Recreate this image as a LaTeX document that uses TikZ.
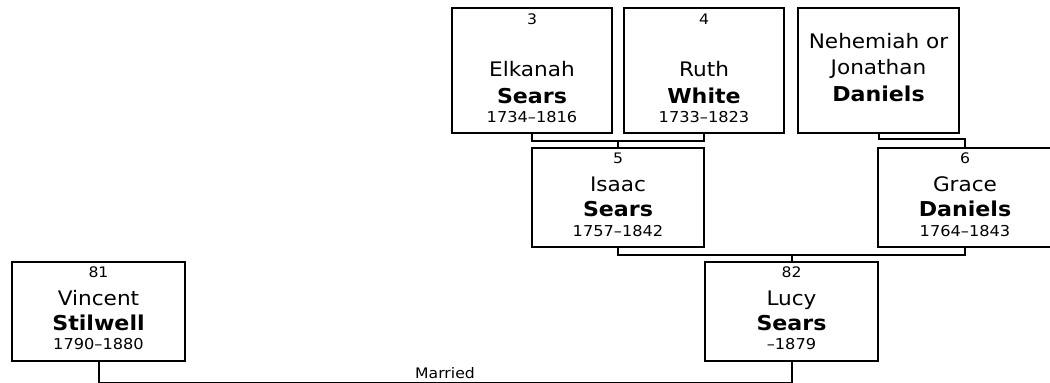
\documentclass[tikz,border=0pt]{standalone}
\usepackage{fontspec}
\setmainfont{DejaVu Sans}[FakeStretch=1.08]
\usetikzlibrary{calc}

\begin{document}
\begin{tikzpicture}[x=1pt, y=-1pt, line width=2pt,
    person/.style={draw, inner sep=0pt, minimum height=99},
    tallperson/.style={draw, inner sep=0pt, minimum height=125},
    num/.style={anchor=base, inner sep=0pt, font=\fontsize{14.5}{17}\selectfont},
    given/.style={anchor=base, inner sep=0pt, font=\fontsize{20}{24}\selectfont},
    sur/.style={anchor=base, inner sep=0pt, font=\fontsize{20.5}{24}\selectfont\bfseries},
    yrs/.style={anchor=base, inner sep=0pt, font=\fontsize{15}{18}\selectfont}]
    \useasboundingbox (0,0) rectangle (1050,383);

    % grandparents
    \node[tallperson, minimum width=160] (b3) at (532,70.5) {};
    \node[tallperson, minimum width=160] (b4) at (704,70.5) {};
    \node[tallperson, minimum width=161] (bnj) at (878.5,70.5) {};
    \foreach \b/\n/\g/\s/\y in {3/3/Elkanah/Sears/1734--1816, 4/4/Ruth/White/1733--1823} {
        \node[num] (n\b) at ($(b\b.north)+(0,17)$) {\n};
        \node[given] (g\b) at ($(b\b.north)+(0,69)$) {\g};
        \node[sur] (s\b) at ($(b\b.north)+(0,96)$) {\s};
        \node[yrs] (y\b) at ($(b\b.north)+(0,115)$) {\y};
    }
    \node[given] (gnj1) at ($(bnj.north)+(0,41)$) {Nehemiah or};
    \node[given] (gnj2) at ($(bnj.north)+(0,67)$) {Jonathan};
    \node[sur] (snj) at ($(bnj.north)+(0,94)$) {Daniels};

    % parents, Lucy and her husband
    \node[person, minimum width=172] (b5) at (618,197.5) {};
    \node[person, minimum width=174] (b6) at (965,197.5) {};
    \node[person, minimum width=173] (b81) at (98.5,311) {};
    \node[person, minimum width=173] (b82) at (791.5,311) {};
    \foreach \b/\g/\s/\y in {5/Isaac/Sears/1757--1842, 6/Grace/Daniels/1764--1843,
        81/Vincent/Stilwell/1790--1880, 82/Lucy/Sears/--1879} {
        \node[num] (n\b) at ($(b\b.north)+(0,16.5)$) {\b};
        \node[given] (g\b) at ($(b\b.north)+(0,44.5)$) {\g};
        \node[sur] (s\b) at ($(b\b.north)+(0,69.5)$) {\s};
        \node[yrs] (y\b) at ($(b\b.north)+(0,89)$) {\y};
    }

    % family lines
    \coordinate (m34) at ($(b3.south)!0.5!(b4.south)+(0,7)$);
    \draw (b3.south) |- (m34) -| (b4.south);
    \draw (m34) -- (b5.north);
    \coordinate (m6) at ($(b6.north)+(0,-8)$);
    \draw (bnj.south) |- (m6) -- (b6.north);
    \coordinate (m56) at ($(b5.south)!0.5!(b6.south)+(0,7)$);
    \draw (b5.south) |- (m56) -| (b6.south);
    \draw (m56) -- (b82.north);

    % marriage
    \coordinate (mm) at ($(b81.south)!0.5!(b82.south)+(0,21)$);
    \draw (b81.south) |- (mm) -| (b82.south);
    \node[num] (married) at ($(mm)+(0,-4)$) {Married};
\end{tikzpicture}
\end{document}
